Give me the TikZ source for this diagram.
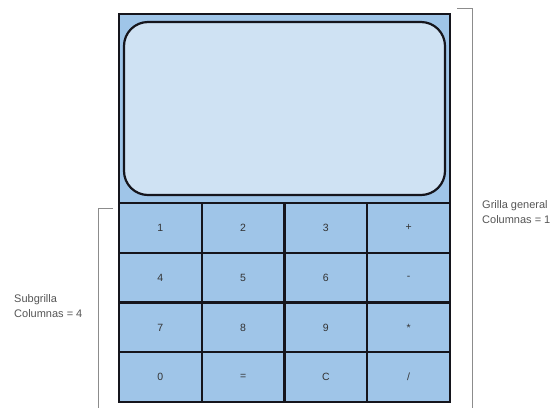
\documentclass[tikz,border=0pt]{standalone}
\usepackage{fontspec}
\setmainfont{Liberation Sans}
\usepackage{xcolor}
\usetikzlibrary{positioning}

\definecolor{keyblue}{HTML}{9FC5E8}
\definecolor{screenblue}{HTML}{CFE2F3}
\definecolor{edgedark}{HTML}{15151C}
\definecolor{labelgray}{HTML}{555555}

\begin{document}
\begin{tikzpicture}[
                x=1pt, y=-1pt,
                node distance=0pt,
                key/.style={draw=edgedark, fill=keyblue, line width=2.2pt,
                    minimum width=82.75pt, minimum height=49.75pt,
                    inner sep=0pt, outer sep=0pt,
                    text=black!80, font=\fontsize{10.5}{12}\selectfont},
                note/.style={align=left, text=labelgray, inner sep=0pt,
                    font=\fontsize{11}{15}\selectfont},
                bracket/.style={draw=black!45, line width=0.9pt}
            ]
                \useasboundingbox (0,0) rectangle (556,408);

                % outer grid and display
                \node[draw=edgedark, fill=keyblue, line width=2.2pt,
                    minimum width=331pt, minimum height=388pt,
                    inner sep=0pt, outer sep=0pt] (frame) at (284.5,208) {};
                \node[draw=edgedark, fill=screenblue, line width=2.2pt,
                    rounded corners=24pt,
                    minimum width=321pt, minimum height=173pt,
                    inner sep=0pt] (screen) at (284.5,108.5) {};

                % keys
                \node[key] (k1) at (160.4,227.9) {1};
                \node[key, right=of k1] (k2) {2};
                \node[key, right=of k2] (k3) {3};
                \node[key, right=of k3] (kplus) {+};

                \node[key, below=of k1] (k4) {4};
                \node[key, right=of k4] (k5) {5};
                \node[key, right=of k5] (k6) {6};
                \node[key, right=of k6] (kminus) {-};

                \node[key, below=of k4] (k7) {7};
                \node[key, right=of k7] (k8) {8};
                \node[key, right=of k8] (k9) {9};
                \node[key, right=of k9] (ktimes) {*};

                \node[key, below=of k7] (k0) {0};
                \node[key, right=of k0] (kequal) {=};
                \node[key, right=of kequal] (kclear) {C};
                \node[key, right=of kclear] (kdiv) {/};

                % brackets and notes
                \coordinate (gtop) at (457,8);
                \coordinate (gcorner) at (472,8);
                \coordinate (gend) at (472,408);
                \coordinate (stop) at (113,208);
                \coordinate (scorner) at (98,208);
                \coordinate (send) at (98,408);

                \draw[bracket] (gtop) -- (gcorner) -- (gend);
                \draw[bracket] (stop) -- (scorner) -- (send);

                \node[note, anchor=west] (general) at (482,212.5)
                    {Grilla general\\Columnas = 1};
                \node[note, anchor=west] (sub) at (14,306.5)
                    {Subgrilla\\Columnas = 4};
            \end{tikzpicture}
\end{document}
